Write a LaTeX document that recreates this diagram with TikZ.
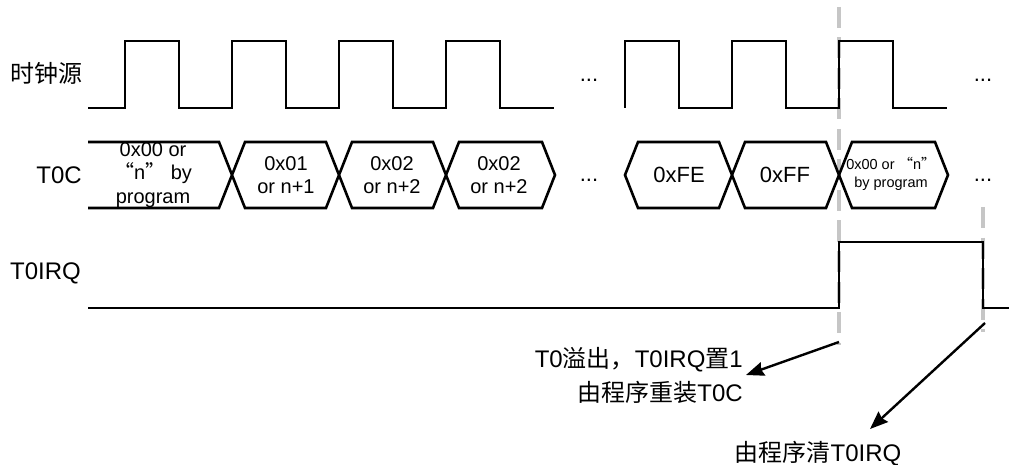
\documentclass[tikz,border=0pt]{standalone}
\usepackage{fontspec}
\setmainfont{Liberation Sans}
\newfontfamily\cjk{Noto Sans CJK SC}
\usetikzlibrary{arrows.meta,positioning}

\begin{document}
\begin{tikzpicture}[
  x=1pt, y=-1pt,
  wave/.style={line width=2.6pt, line join=miter},
  guide/.style={line width=3.4pt, gray!45, dash pattern=on 21pt off 9.5pt},
  arr/.style={-{Stealth[length=18pt,width=14pt,inset=2pt]}, line width=2.4pt},
  lbl/.style={font=\fontsize{24}{34}\selectfont, inner sep=0pt},
  val/.style={font=\fontsize{20}{23.5}\selectfont, align=center, inner sep=0pt},
  bigval/.style={font=\fontsize{22}{26}\selectfont, inner sep=0pt},
  smallval/.style={font=\fontsize{14.5}{18}\selectfont, align=center, inner sep=0pt},
  dots/.style={font=\fontsize{22}{26}\selectfont, anchor=base, inner sep=0pt}
]
\useasboundingbox (0,0) rectangle (1009,465);

% overflow marks
\draw[guide] (839,7) -- (839,345);
\draw[guide] (983,207) -- (983,332);

% signal names
\node[lbl] (clk) at (46,73) {\cjk 时钟源};
\node[lbl, anchor=east] (t0c) at (82,175) {T0C};
\node[lbl, anchor=west] (irq) at (10,273) {T0IRQ};

% clock source
\draw[wave] (88,108) \foreach \x in {125,232,339,446} { -- (\x,108) -- (\x,41) -- (\x+54,41) -- (\x+54,108) } -- (554,108);
\draw[wave] (625,108) \foreach \x in {625,732,839} { -- (\x,108) -- (\x,41) -- (\x+54,41) -- (\x+54,108) } -- (947,108);
\node[dots] (clkdots1) at (589,82) {...};
\node[dots] (clkdots2) at (983,82) {...};

% T0C counter bus
\draw[wave] (88,142) -- (219,142) -- (245,208) -- (326,208) -- (352,142) -- (433,142) -- (459,208) -- (542,208) -- (555,175)
  -- (542,142) -- (459,142) -- (433,208) -- (352,208) -- (326,142) -- (245,142) -- (219,208) -- (88,208);
\draw[wave] (625,175) -- (638,142) -- (719,142) -- (745,208) -- (826,208) -- (852,142) -- (935,142) -- (948,175)
  -- (935,208) -- (852,208) -- (826,142) -- (745,142) -- (719,208) -- (638,208) -- cycle;
\node[val] (v0) at (153,175) {0x00 or\\{\cjk “}n{\cjk ”} by\\program};
\node[val] (v1) at (286,175) {0x01\\or n+1};
\node[val] (v2) at (392,175) {0x02\\or n+2};
\node[val] (v3) at (499,175) {0x02\\or n+2};
\node[bigval] (vfe) at (679,175) {0xFE};
\node[bigval] (vff) at (785,175) {0xFF};
\node[smallval] (vnew) at (891,174) {0x00 or {\cjk “}n{\cjk ”}\\by program};
\node[dots] (busdots1) at (589,182) {...};
\node[dots] (busdots2) at (983,182) {...};

% T0IRQ flag
\draw[wave] (88,308) -- (839,308) -- (839,242) -- (983,242) -- (983,308) -- (1009,308);

% notes
\coordinate (ovf) at (839,342);
\coordinate (clr) at (985,323);
\node[lbl, align=right, anchor=east, inner sep=3pt] (ovftxt) at (746,375) {T0{\cjk 溢出，}T0IRQ{\cjk 置}1\\{\cjk 由程序重装}T0C};
\node[lbl, anchor=north, inner sep=3pt] (clrtxt) at (818,438) {{\cjk 由程序清}T0IRQ};
\draw[arr] (ovf) -- (ovftxt.east);
\draw[arr] (clr) -- ([xshift=52pt,yshift=9pt]clrtxt.north);
\end{tikzpicture}
\end{document}
